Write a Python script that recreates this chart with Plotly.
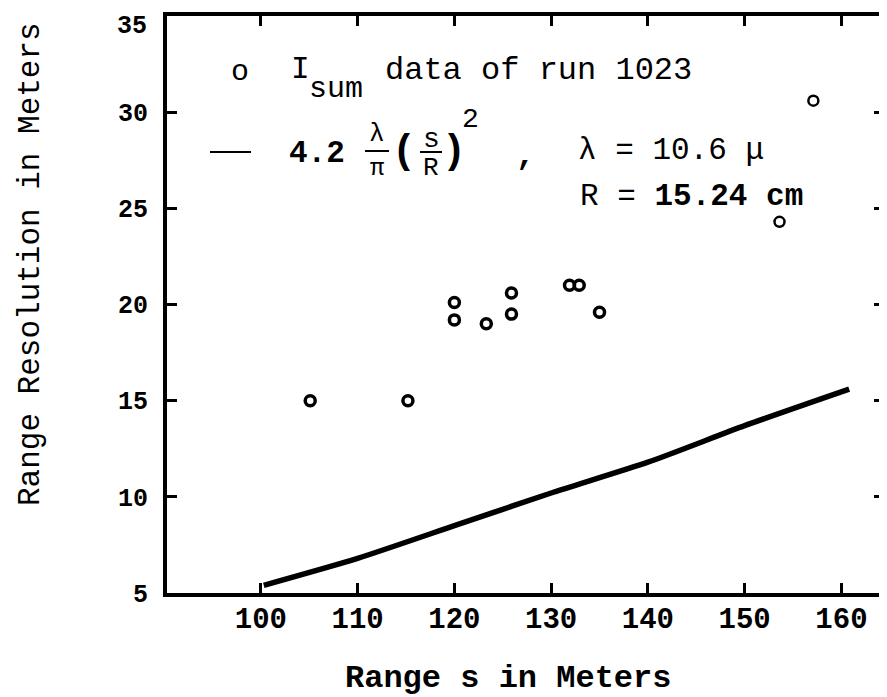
import plotly.graph_objects as go

# ---- data ----
range_s = [105.1, 115.2, 120.0, 120.0, 123.3, 125.9, 125.9, 131.9, 132.9, 135.0, 153.6, 157.1]
resolution = [15.0, 15.0, 20.1, 19.2, 19.0, 20.6, 19.5, 21.0, 21.0, 19.6, 24.3, 30.6]
ring_width = [3.5, 3.5, 3.5, 3.5, 3.5, 3.5, 3.5, 3.5, 3.5, 3.5, 2.5, 2.5]

theory_s = [100.3, 110.0, 120.0, 130.0, 140.0, 150.0, 160.8]
theory_r = [5.4, 6.8, 8.5, 10.2, 11.8, 13.7, 15.6]

x_ticks = [100, 110, 120, 130, 140, 150, 160]
y_ticks = [5, 10, 15, 20, 25, 30, 35]

FONT = "Liberation Mono, Courier New, monospace"
OFF = 8                      # default page (body) margin of the browser
W, H = 887 - OFF, 697 - OFF
PL, PR, PT, PB = 167, 884, 16, 593     # wanted plot-area edges in page pixels
L, T = PL - OFF, PT - OFF
R = W - (PR - OFF)
B = H - (PB - OFF)
PW, PH = PR - PL, PB - PT


def px(x):
    return (x - PL) / PW


def py(y):
    return (PB - y) / PH


fig = go.Figure()
fig.add_trace(go.Scatter(
    x=theory_s, y=theory_r, mode="lines",
    line=dict(color="black", width=5.5, shape="spline", smoothing=0.6),
    showlegend=False, hoverinfo="skip"))
fig.add_trace(go.Scatter(
    x=range_s, y=resolution, mode="markers",
    marker=dict(symbol="circle-open", size=10, color="black",
                line=dict(color="black", width=ring_width)),
    showlegend=False))

annots = []


def txt(text, x, y, size=31, xanchor="center", yanchor="middle", bold=False):
    annots.append(dict(
        text=f"<b>{text}</b>" if bold else text,
        x=px(x), y=py(y), xref="paper", yref="paper",
        xanchor=xanchor, yanchor=yanchor, showarrow=False,
        font=dict(family=FONT, size=size, color="black")))


# legend line 1
txt("o", 240, 72, size=30)
txt("I", 300, 69, size=31)
txt("sum", 336, 89, size=30)
txt("data of run 1023", 383, 71, size=32, xanchor="left")
# legend line 2 : formula
txt("4.2", 287, 153, size=31, xanchor="left", bold=True)
txt("λ", 377, 134, size=26)
txt("π", 377, 168, size=24)
txt("(", 404, 152, size=40, bold=True)
txt("s", 431, 139, size=28)
txt("R", 431, 168, size=26)
txt(")", 454, 152, size=40, bold=True)
txt("2", 470, 119, size=28)
txt(",", 525, 156, size=32, bold=True)
txt("λ = 10.6 μ", 576, 150, size=31, xanchor="left")
txt("R = <b>15.24 cm</b>", 578, 196, size=31, xanchor="left")

# top y label (kept inside the page, sits just below its tick as in the scan)
top_label = y_ticks[-1]
annots.append(dict(
    text=f"<b>{top_label}</b>", x=0, y=1, xref="paper", yref="paper",
    xanchor="right", yanchor="top", xshift=-18, yshift=6, showarrow=False,
    font=dict(family=FONT, size=25, color="black")))

# axis titles
txt("<b>Range s in Meters</b>", 508, 678, size=32)
annots.append(dict(
    text="Range Resolution in Meters", x=px(30), y=py(264),
    xref="paper", yref="paper", xanchor="center", yanchor="middle",
    textangle=-90, showarrow=False,
    font=dict(family=FONT, size=31, color="black")))

shapes = [
    dict(type="line", xref="paper", yref="paper",
         x0=px(210), x1=px(251), y0=py(152), y1=py(152),
         line=dict(color="black", width=2)),
    dict(type="line", xref="paper", yref="paper",
         x0=px(365), x1=px(389), y0=py(151), y1=py(151),
         line=dict(color="black", width=2)),
    dict(type="line", xref="paper", yref="paper",
         x0=px(420), x1=px(442), y0=py(152), y1=py(152),
         line=dict(color="black", width=2)),
]

fig.update_layout(
    width=W, height=H,
    margin=dict(l=L, r=R, t=T, b=B, pad=0),
    paper_bgcolor="white", plot_bgcolor="white",
    font=dict(family=FONT, color="black"),
    annotations=annots, shapes=shapes,
    xaxis=dict(range=[90.3, 164.4], tickvals=x_ticks,
               ticktext=[f"<b>{v}</b>" for v in x_ticks],
               showgrid=False, zeroline=False, automargin=False,
               showline=True, linecolor="black", linewidth=4, mirror="ticks",
               ticks="inside", ticklen=10, tickwidth=3, tickcolor="black",
               tickfont=dict(family=FONT, size=29, color="black"),
               ticklabelstandoff=-4, ticklabeloverflow="allow"),
    yaxis=dict(range=[5, 35], tickvals=y_ticks,
               ticktext=[f"<b>{v}</b>" if v != top_label else "" for v in y_ticks],
               showgrid=False, zeroline=False, automargin=False,
               showline=True, linecolor="black", linewidth=4, mirror="ticks",
               ticks="inside", ticklen=10, tickwidth=3, tickcolor="black",
               tickfont=dict(family=FONT, size=25, color="black"),
               ticklabelstandoff=10, ticklabeloverflow="allow"),
)

fig.write_html("out.html")
